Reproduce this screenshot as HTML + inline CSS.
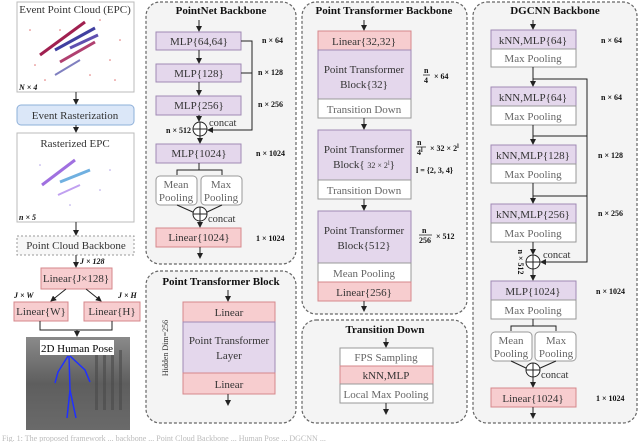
<!DOCTYPE html>
<html><head><meta charset="utf-8"><style>
html,body{margin:0;padding:0;background:#fff;}
svg{display:block;font-family:"Liberation Serif",serif;}
</style></head><body>
<svg width="640" height="442" viewBox="0 0 640 442" xmlns="http://www.w3.org/2000/svg">
<defs>
<marker id="a" markerWidth="6" markerHeight="6" refX="5" refY="3" orient="auto" markerUnits="userSpaceOnUse"><path d="M0,0 L6,3 L0,6 z" fill="#222"/></marker>
<linearGradient id="ph" x1="0" y1="0" x2="0" y2="1"><stop offset="0" stop-color="#8a8a8a"/><stop offset="0.5" stop-color="#5e5e5e"/><stop offset="1" stop-color="#6a6a6a"/></linearGradient>
</defs>
<style>
.pn{fill:#f4f4f4;stroke:#666;stroke-dasharray:3,2;stroke-width:1.2}
.pu{fill:#e4d7ec;stroke:#a08ab4;stroke-width:1}
.pk{fill:#f7cdcf;stroke:#d6878b;stroke-width:1}
.wh{fill:#fff;stroke:#999;stroke-width:1}
.bl{fill:#dbe7f8;stroke:#8eb0d9;stroke-width:1}
.ln{stroke:#222;stroke-width:1;fill:none}
.t{font-size:11px;fill:#333;text-anchor:middle}
.tt{font-size:11px;fill:#111;text-anchor:middle;font-weight:bold}
.s{font-size:8px;fill:#111;font-weight:bold}
.g{font-size:11px;fill:#666;text-anchor:middle}
</style>

<!-- Left column -->
<rect x="17" y="2" width="117" height="90" fill="#fff" stroke="#bbb"/>
<text x="75" y="13" class="t">Event Point Cloud (EPC)</text>
<g stroke-width="3">
<line x1="40" y1="55" x2="85" y2="22" stroke="#a02050"/>
<line x1="55" y1="50" x2="95" y2="28" stroke="#4040a0"/>
<line x1="70" y1="48" x2="98" y2="35" stroke="#6050b0"/>
<line x1="60" y1="62" x2="95" y2="42" stroke="#b04070"/>
<line x1="55" y1="75" x2="80" y2="60" stroke="#8080c0" stroke-width="2"/>
</g>
<g fill="#e07070">
<circle cx="30" cy="30" r="0.8"/><circle cx="110" cy="60" r="0.8"/><circle cx="45" cy="80" r="0.8"/><circle cx="100" cy="20" r="0.8"/><circle cx="120" cy="40" r="0.8"/><circle cx="35" cy="65" r="0.8"/><circle cx="90" cy="75" r="0.8"/><circle cx="60" cy="30" r="0.8"/><circle cx="115" cy="80" r="0.8"/>
</g>
<text x="19" y="90" class="s" font-style="italic">N × 4</text>
<line x1="76" y1="92" x2="76" y2="104" class="ln" marker-end="url(#a)"/>
<rect x="17" y="105" width="117" height="20" rx="4" class="bl"/>
<text x="75" y="119" class="t">Event Rasterization</text>
<line x1="76" y1="125" x2="76" y2="132" class="ln" marker-end="url(#a)"/>
<rect x="17" y="133" width="117" height="89" fill="#fff" stroke="#bbb"/>
<text x="75" y="147" class="t">Rasterized EPC</text>
<g stroke-width="3">
<line x1="42" y1="185" x2="75" y2="160" stroke="#a070e0"/>
<line x1="60" y1="182" x2="90" y2="170" stroke="#70b0e0"/>
<line x1="58" y1="195" x2="80" y2="185" stroke="#c0a0f0" stroke-width="2"/>
</g>
<g fill="#b0a0e8"><circle cx="40" cy="165" r="0.8"/><circle cx="100" cy="190" r="0.8"/><circle cx="70" cy="205" r="0.8"/><circle cx="110" cy="170" r="0.8"/></g>
<text x="19" y="220" class="s" font-style="italic">n × 5</text>
<line x1="76" y1="222" x2="76" y2="235" class="ln" marker-end="url(#a)"/>
<rect x="17" y="236" width="117" height="19" fill="#f7f7f7" stroke="#999" stroke-dasharray="2,2"/>
<text x="76" y="249" class="t">Point Cloud Backbone</text>
<line x1="76" y1="255" x2="76" y2="267" class="ln" marker-end="url(#a)"/>
<text x="80" y="264" class="s" font-style="italic">J × 128</text>
<rect x="41" y="268" width="71" height="21" class="pk"/>
<text x="76" y="282" class="t">Linear{J×128}</text>
<line x1="66" y1="289" x2="51" y2="301" class="ln" marker-end="url(#a)"/>
<line x1="86" y1="289" x2="101" y2="301" class="ln" marker-end="url(#a)"/>
<text x="14" y="298" class="s" font-style="italic">J × W</text>
<text x="118" y="298" class="s" font-style="italic">J × H</text>
<rect x="14" y="302" width="54" height="19" class="pk"/>
<text x="41" y="315" class="t">Linear{W}</text>
<rect x="84" y="302" width="56" height="19" class="pk"/>
<text x="112" y="315" class="t">Linear{H}</text>
<path d="M40,321 V330 H112 V321" class="ln"/>
<line x1="77" y1="330" x2="77" y2="336" class="ln" marker-end="url(#a)"/>
<rect x="26" y="337" width="104" height="93" fill="url(#ph)"/>
<g fill="#4a4a4a" opacity="0.6"><rect x="95" y="350" width="3" height="60"/><rect x="103" y="350" width="3" height="60"/><rect x="111" y="350" width="3" height="60"/><rect x="119" y="350" width="3" height="60"/></g>
<rect x="40" y="340" width="74" height="15" fill="#fff"/>
<text x="77" y="352" class="t" style="fill:#000">2D Human Pose</text>
<g stroke="#2030ff" stroke-width="1.5" fill="none">
<path d="M68,356 L58,372 L55,383"/><path d="M70,356 L85,370 L90,382"/><path d="M69,356 L70,390 L67,418"/><path d="M70,390 L76,418"/>
</g>

<!-- PointNet panel -->
<rect x="146" y="2" width="150" height="262" rx="14" class="pn"/>
<text x="221" y="14" class="tt">PointNet Backbone</text>
<line x1="199" y1="20" x2="199" y2="31" class="ln" marker-end="url(#a)"/>
<rect x="156" y="32" width="85" height="18" class="pu"/><text x="199" y="45" class="t">MLP{64,64}</text>
<line x1="199" y1="50" x2="199" y2="63" class="ln" marker-end="url(#a)"/>
<rect x="156" y="64" width="85" height="18" class="pu"/><text x="199" y="77" class="t">MLP{128}</text>
<line x1="199" y1="82" x2="199" y2="95" class="ln" marker-end="url(#a)"/>
<rect x="156" y="96" width="85" height="19" class="pu"/><text x="199" y="109" class="t">MLP{256}</text>
<line x1="199" y1="115" x2="199" y2="121" class="ln" marker-end="url(#a)"/>
<path d="M241,41 H252 V130 H208" class="ln" marker-end="url(#a)"/>
<line x1="241" y1="73" x2="252" y2="73" class="ln"/>
<circle cx="200" cy="129" r="7" fill="#fff" stroke="#222"/><path d="M193,129 H207 M200,122 V136" class="ln"/>
<text x="209" y="126" font-size="10.5" fill="#333">concat</text>
<text x="166" y="133" class="s">n × 512</text>
<line x1="200" y1="136" x2="200" y2="143" class="ln" marker-end="url(#a)"/>
<rect x="156" y="144" width="85" height="19" class="pu"/><text x="199" y="157" class="t">MLP{1024}</text>
<path d="M199,163 V170 M177,175 V170 H222 V175" class="ln"/>
<rect x="156" y="176" width="41" height="29" rx="4" class="wh"/>
<text x="176" y="188" class="g">Mean</text><text x="176" y="201" class="g">Pooling</text>
<rect x="201" y="176" width="41" height="29" rx="4" class="wh"/>
<text x="221" y="188" class="g">Max</text><text x="221" y="201" class="g">Pooling</text>
<path d="M177,205 L195,213 M222,205 L205,213" class="ln"/>
<circle cx="200" cy="214" r="7" fill="#fff" stroke="#222"/><path d="M193,214 H207 M200,207 V221" class="ln"/>
<text x="208" y="222" font-size="10.5" fill="#333">concat</text>
<line x1="200" y1="221" x2="200" y2="227" class="ln" marker-end="url(#a)"/>
<rect x="156" y="228" width="85" height="19" class="pk"/><text x="199" y="241" class="t">Linear{1024}</text>
<line x1="200" y1="247" x2="200" y2="258" class="ln" marker-end="url(#a)"/>
<g class="s"><text x="262" y="43">n × 64</text><text x="258" y="75">n × 128</text><text x="258" y="107">n × 256</text><text x="256" y="156">n × 1024</text><text x="256" y="241">1 × 1024</text></g>

<!-- Point Transformer Block panel -->
<rect x="146" y="271" width="150" height="152" rx="14" class="pn"/>
<text x="221" y="285" class="tt">Point Transformer Block</text>
<line x1="228" y1="290" x2="228" y2="301" class="ln" marker-end="url(#a)"/>
<rect x="183" y="302" width="92" height="20" class="pk"/><text x="229" y="316" class="t">Linear</text>
<rect x="183" y="322" width="92" height="51" class="pu"/><text x="229" y="344" class="t">Point Transformer</text><text x="229" y="359" class="t">Layer</text>
<rect x="183" y="373" width="92" height="21" class="pk"/><text x="229" y="388" class="t">Linear</text>
<line x1="228" y1="394" x2="228" y2="405" class="ln" marker-end="url(#a)"/>
<text transform="translate(168,348) rotate(-90)" font-size="8" fill="#333" text-anchor="middle">Hidden Dim=256</text>

<!-- Point Transformer Backbone -->
<rect x="302" y="2" width="165" height="312" rx="14" class="pn"/>
<text x="384" y="14" class="tt">Point Transformer Backbone</text>
<line x1="364" y1="20" x2="364" y2="30" class="ln" marker-end="url(#a)"/>
<rect x="318" y="31" width="93" height="19" class="pk"/><text x="364" y="45" class="t">Linear{32,32}</text>
<rect x="318" y="50" width="93" height="49" class="pu"/><text x="364" y="73" class="t">Point Transformer</text><text x="364" y="88" class="t">Block{32}</text>
<rect x="318" y="99" width="93" height="19" class="wh"/><text x="364" y="113" class="g">Transition Down</text>
<line x1="364" y1="118" x2="364" y2="129" class="ln" marker-end="url(#a)"/>
<rect x="318" y="130" width="93" height="50" class="pu"/><text x="364" y="153" class="t">Point Transformer</text><text x="364" y="168" class="t">Block{ <tspan font-size="8">32 × 2</tspan><tspan font-size="6" dy="-3">l</tspan><tspan dy="3">}</tspan></text>
<rect x="318" y="180" width="93" height="19" class="wh"/><text x="364" y="194" class="g">Transition Down</text>
<line x1="364" y1="199" x2="364" y2="210" class="ln" marker-end="url(#a)"/>
<rect x="318" y="211" width="93" height="52" class="pu"/><text x="364" y="234" class="t">Point Transformer</text><text x="364" y="249" class="t">Block{512}</text>
<rect x="318" y="263" width="93" height="19" class="wh"/><text x="364" y="277" class="g">Mean Pooling</text>
<rect x="318" y="282" width="93" height="19" class="pk"/><text x="364" y="296" class="t">Linear{256}</text>
<line x1="364" y1="301" x2="364" y2="311" class="ln" marker-end="url(#a)"/>
<g class="s">
<text x="424" y="73">n</text><line x1="423" y1="75" x2="430" y2="75" stroke="#111" stroke-width="0.7"/><text x="424" y="83">4</text><text x="434" y="79">× 64</text>
<text x="417" y="145">n</text><line x1="416" y1="147" x2="426" y2="147" stroke="#111" stroke-width="0.7"/><text x="417" y="155">4<tspan font-size="6" dy="-3">l</tspan></text><text x="430" y="151">× 32 × 2<tspan font-size="6" dy="-3">l</tspan></text>
<text x="416" y="173">l = {2, 3, 4}</text>
<text x="422" y="233">n</text><line x1="419" y1="235" x2="432" y2="235" stroke="#111" stroke-width="0.7"/><text x="419" y="243">256</text><text x="436" y="239">× 512</text>
</g>

<!-- Transition Down panel -->
<rect x="302" y="320" width="165" height="103" rx="14" class="pn"/>
<text x="385" y="333" class="tt">Transition Down</text>
<line x1="386" y1="338" x2="386" y2="347" class="ln" marker-end="url(#a)"/>
<rect x="340" y="348" width="93" height="18" class="wh"/><text x="386" y="361" class="g">FPS Sampling</text>
<rect x="340" y="366" width="93" height="18" class="pk"/><text x="386" y="379" class="t">kNN,MLP</text>
<rect x="340" y="384" width="93" height="19" class="wh"/><text x="386" y="398" class="g">Local Max Pooling</text>
<line x1="386" y1="403" x2="386" y2="414" class="ln" marker-end="url(#a)"/>

<!-- DGCNN -->
<rect x="473" y="2" width="164" height="421" rx="14" class="pn"/>
<text x="555" y="14" class="tt">DGCNN Backbone</text>
<line x1="533" y1="20" x2="533" y2="29" class="ln" marker-end="url(#a)"/>
<rect x="491" y="30" width="85" height="19" class="pu"/><text x="533" y="44" class="t">kNN,MLP{64}</text>
<rect x="491" y="49" width="85" height="18" class="wh"/><text x="533" y="62" class="g">Max Pooling</text>
<line x1="533" y1="67" x2="533" y2="86" class="ln" marker-end="url(#a)"/>
<rect x="491" y="87" width="85" height="19" class="pu"/><text x="533" y="101" class="t">kNN,MLP{64}</text>
<rect x="491" y="106" width="85" height="19" class="wh"/><text x="533" y="120" class="g">Max Pooling</text>
<line x1="533" y1="125" x2="533" y2="144" class="ln" marker-end="url(#a)"/>
<rect x="491" y="145" width="85" height="19" class="pu"/><text x="533" y="159" class="t">kNN,MLP{128}</text>
<rect x="491" y="164" width="85" height="19" class="wh"/><text x="533" y="178" class="g">Max Pooling</text>
<line x1="533" y1="183" x2="533" y2="203" class="ln" marker-end="url(#a)"/>
<rect x="491" y="204" width="85" height="19" class="pu"/><text x="533" y="218" class="t">kNN,MLP{256}</text>
<rect x="491" y="223" width="85" height="19" class="wh"/><text x="533" y="237" class="g">Max Pooling</text>
<line x1="533" y1="242" x2="533" y2="254" class="ln" marker-end="url(#a)"/>
<path d="M533,79 H587 V262 H541" class="ln" marker-end="url(#a)"/>
<path d="M533,136 H587 M533,196 H587" class="ln"/>
<circle cx="533" cy="262" r="7" fill="#fff" stroke="#222"/><path d="M526,262 H540 M533,255 V269" class="ln"/>
<text x="543" y="258" font-size="10.5" fill="#333">concat</text>
<text transform="translate(518,262) rotate(90)" class="s" text-anchor="middle">n × 512</text>
<line x1="533" y1="269" x2="533" y2="280" class="ln" marker-end="url(#a)"/>
<rect x="491" y="281" width="85" height="19" class="pu"/><text x="533" y="295" class="t">MLP{1024}</text>
<rect x="491" y="300" width="85" height="19" class="wh"/><text x="533" y="314" class="g">Max Pooling</text>
<path d="M533,319 V326 M511,331 V326 H556 V331" class="ln"/>
<rect x="491" y="332" width="41" height="29" rx="4" class="wh"/>
<text x="511" y="344" class="g">Mean</text><text x="511" y="357" class="g">Pooling</text>
<rect x="535" y="332" width="41" height="29" rx="4" class="wh"/>
<text x="556" y="344" class="g">Max</text><text x="556" y="357" class="g">Pooling</text>
<path d="M511,361 L528,369 M556,361 L538,369" class="ln"/>
<circle cx="533" cy="370" r="7" fill="#fff" stroke="#222"/><path d="M526,370 H540 M533,363 V377" class="ln"/>
<text x="541" y="378" font-size="10.5" fill="#333">concat</text>
<line x1="533" y1="377" x2="533" y2="387" class="ln" marker-end="url(#a)"/>
<rect x="491" y="388" width="85" height="19" class="pk"/><text x="533" y="402" class="t">Linear{1024}</text>
<line x1="533" y1="407" x2="533" y2="418" class="ln" marker-end="url(#a)"/>
<g class="s"><text x="601" y="43">n × 64</text><text x="601" y="100">n × 64</text><text x="598" y="158">n × 128</text><text x="598" y="216">n × 256</text><text x="596" y="294">n × 1024</text><text x="596" y="401">1 × 1024</text></g>

<text x="2" y="441" font-size="8" fill="#bbb">Fig. 1: The proposed framework ... backbone ... Point Cloud Backbone ... Human Pose ... DGCNN ...</text>
</svg>
</body></html>
